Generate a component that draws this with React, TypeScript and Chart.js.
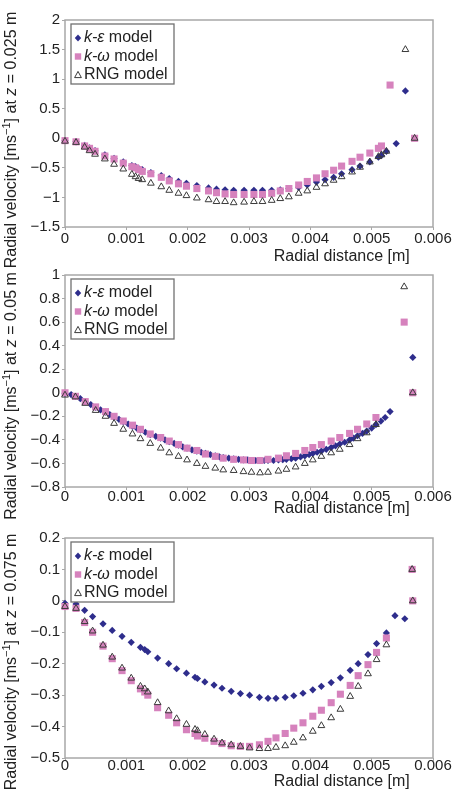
import React, { useEffect, useRef } from 'react';
import { Chart, registerables } from 'chart.js';

Chart.register(...registerables);

const FONT = '"Liberation Sans", Arial, Helvetica, sans-serif';
const C_KE = '#2e2d8c';
const C_KW = '#d682bd';
const C_RNG = '#3a3a3a';
const FRAME = '#a8a8a8';
const TEXT = '#222222';

const X_TICKS = [0, 0.001, 0.002, 0.003, 0.004, 0.005, 0.006];
const X_TITLE = 'Radial distance [m]';
const LEGEND_LABELS = ['k-ε', 'k-ω', 'RNG'];
const LEGEND_ITALIC = [true, true, false];
const LEGEND_SUFFIX = ' model';
const Z_VALUES = ['0.025', '0.05', '0.075'];

const Y1_TICKS = [-1.5, -1, -0.5, 0, 0.5, 1, 1.5, 2];
const Y2_TICKS = [-0.8, -0.6, -0.4, -0.2, 0, 0.2, 0.4, 0.6, 0.8, 1];
const Y3_TICKS = [-0.5, -0.4, -0.3, -0.2, -0.1, 0, 0.1, 0.2];

// ---------- Panel 1 : z = 0.025 m ----------
const X1 = [0, 0.00018, 0.00032, 0.0004, 0.00049, 0.00065, 0.0008, 0.00095, 0.00109, 0.00115,
  0.0012, 0.00126, 0.0014, 0.00157, 0.0017, 0.00185, 0.00198, 0.00215, 0.00234, 0.00247,
  0.00261, 0.00275, 0.00292, 0.00308, 0.00322, 0.00337, 0.00351, 0.00365, 0.00381, 0.00395,
  0.0041, 0.00424, 0.00438, 0.00451, 0.00468, 0.00481, 0.00497, 0.00511, 0.00516, 0.00524,
  0.0053, 0.0054, 0.00555, 0.0057];
const KE1 = [-0.04, -0.06, -0.12, -0.16, -0.21, -0.28, -0.34, -0.4, -0.46, -0.48,
  -0.51, -0.53, -0.58, -0.63, -0.68, -0.73, -0.76, -0.8, -0.84, -0.86,
  -0.87, -0.88, -0.88, -0.88, -0.88, -0.88, -0.87, -0.85, -0.83, -0.79,
  -0.74, -0.7, -0.66, -0.6, -0.53, -0.47, -0.4, -0.32, -0.29, -0.22,
  null, -0.09, 0.8, null];
const KW1 = [-0.04, -0.06, -0.13, -0.17, -0.22, -0.3, -0.35, -0.42, -0.48, -0.5,
  -0.53, -0.56, -0.6, -0.66, -0.72, -0.77, -0.81, -0.85, -0.89, -0.92,
  -0.94, -0.95, -0.95, -0.95, -0.95, -0.93, -0.89, -0.85, -0.79, -0.73,
  -0.67, -0.6, -0.54, -0.47, -0.39, -0.32, -0.25, -0.17, -0.13, null,
  0.9, null, null, 0];
const RNG1 = [-0.05, -0.07, -0.15, -0.21, -0.27, -0.35, -0.44, -0.52, -0.61, -0.65,
  -0.68, -0.7, -0.76, -0.82, -0.88, -0.93, -0.97, -1.01, -1.04, -1.07,
  -1.07, -1.09, -1.08, -1.07, -1.07, -1.05, -1.02, -0.99, -0.93, -0.89,
  -0.83, -0.77, -0.71, -0.65, -0.57, -0.49, -0.4, -0.31, -0.28, -0.22,
  null, null, 1.5, 0];

// ---------- Panel 2 : z = 0.05 m ----------
const X2 = [0, 0.00017, 0.00033, 0.0005, 0.00066, 0.0008, 0.00095, 0.0011, 0.00123, 0.00139,
  0.00156, 0.0017, 0.00185, 0.00199, 0.00215, 0.00229, 0.00245, 0.00258, 0.00275, 0.00291,
  0.00304, 0.00318, 0.00331, 0.00348, 0.00361, 0.00376, 0.00391, 0.00404, 0.00418, 0.00434,
  0.00448, 0.00464, 0.00477, 0.00492, 0.00507, 0.00553, 0.00567];
const KW2 = [0, -0.03, -0.075, -0.12, -0.16, -0.2, -0.24, -0.275, -0.31, -0.35,
  -0.38, -0.41, -0.44, -0.47, -0.49, -0.52, -0.54, -0.555, -0.565, -0.57,
  -0.575, -0.575, -0.565, -0.555, -0.535, -0.515, -0.49, -0.465, -0.44, -0.41,
  -0.38, -0.345, -0.31, -0.265, -0.21, 0.6, 0];
const RNG2 = [-0.02, -0.035, -0.09, -0.15, -0.2, -0.26, -0.31, -0.35, -0.39, -0.43,
  -0.47, -0.51, -0.54, -0.57, -0.6, -0.625, -0.64, -0.655, -0.66, -0.67,
  -0.675, -0.68, -0.675, -0.665, -0.65, -0.63, -0.6, -0.57, -0.54, -0.51,
  -0.48, -0.44, -0.39, -0.34, -0.27, 0.9, 0];
const X2E = [0, 0.0001, 0.00017, 0.00025, 0.00033, 0.00042, 0.0005, 0.00058, 0.00066, 0.00073,
  0.0008, 0.00088, 0.00095, 0.00103, 0.0011, 0.00117, 0.00123, 0.00131, 0.00139, 0.00148,
  0.00156, 0.00163, 0.0017, 0.00178, 0.00185, 0.00192, 0.00199, 0.00207, 0.00215, 0.00222,
  0.00229, 0.00237, 0.00245, 0.00252, 0.00258, 0.00267, 0.00275, 0.00283, 0.00291, 0.00298,
  0.00304, 0.00311, 0.00318, 0.00325, 0.00331, 0.0034, 0.00348, 0.00355, 0.00361, 0.00369,
  0.00376, 0.00384, 0.00391, 0.00398, 0.00404, 0.00411, 0.00418, 0.00426, 0.00434, 0.00441,
  0.00448, 0.00456, 0.00464, 0.0047, 0.00477, 0.00485, 0.00492, 0.005, 0.00507, 0.00515,
  0.00522, 0.0053, 0.00567];
const KE2 = [-0.005, -0.015, -0.03, -0.05, -0.075, -0.1, -0.125, -0.145, -0.165, -0.185,
  -0.205, -0.225, -0.245, -0.265, -0.285, -0.3, -0.315, -0.335, -0.355, -0.37,
  -0.385, -0.4, -0.415, -0.43, -0.445, -0.46, -0.47, -0.485, -0.495, -0.505,
  -0.515, -0.525, -0.535, -0.545, -0.55, -0.555, -0.56, -0.565, -0.57, -0.57,
  -0.575, -0.575, -0.575, -0.575, -0.575, -0.575, -0.57, -0.568, -0.565, -0.56,
  -0.555, -0.545, -0.535, -0.525, -0.515, -0.505, -0.495, -0.48, -0.465, -0.45,
  -0.435, -0.42, -0.4, -0.385, -0.365, -0.345, -0.325, -0.3, -0.27, -0.24,
  -0.21, -0.16, 0.3];

// ---------- Panel 3 : z = 0.075 m ----------
const X3 = [0, 0.00018, 0.00032, 0.00045, 0.00062, 0.00077, 0.00093, 0.00108, 0.00123, 0.0013,
  0.00135, 0.00151, 0.00169, 0.00182, 0.00198, 0.00212, 0.00216, 0.00228, 0.00243, 0.00256,
  0.00271, 0.00286, 0.00301, 0.00317, 0.00331, 0.00344, 0.00359, 0.00373, 0.00388, 0.00404,
  0.00418, 0.00434, 0.00449, 0.00465, 0.00478, 0.00494, 0.00508, 0.00524, 0.00538, 0.00554,
  0.00566, 0.00567];
const KE3 = [-0.008, -0.01, -0.03, -0.05, -0.073, -0.094, -0.113, -0.132, -0.148, -0.155,
  -0.162, -0.182, -0.2, -0.216, -0.23, -0.243, -0.247, -0.258, -0.268, -0.278,
  -0.288, -0.295, -0.3, -0.307, -0.31, -0.31, -0.307, -0.302, -0.294, -0.283,
  -0.272, -0.26, -0.245, -0.221, -0.2, -0.171, -0.136, -0.102, -0.047, -0.057,
  null, null];
const KW3 = [-0.018, -0.024, -0.069, -0.1, -0.144, -0.184, -0.222, -0.254, -0.28, -0.29,
  -0.3, -0.34, -0.364, -0.388, -0.41, -0.422, -0.43, -0.437, -0.447, -0.454,
  -0.461, -0.463, -0.463, -0.458, -0.447, -0.436, -0.422, -0.405, -0.388, -0.367,
  -0.348, -0.324, -0.297, -0.269, -0.238, -0.203, -0.164, -0.118, null, null,
  0.1, 0];
const RNG3 = [-0.018, -0.024, -0.066, -0.096, -0.141, -0.179, -0.214, -0.246, -0.272, -0.28,
  -0.29, -0.324, -0.35, -0.375, -0.393, -0.409, -0.413, -0.425, -0.44, -0.452,
  -0.458, -0.463, -0.468, -0.47, -0.47, -0.466, -0.461, -0.45, -0.436, -0.415,
  -0.397, -0.372, -0.345, -0.304, -0.272, -0.232, -0.187, -0.14, null, null,
  0.1, 0];

function pts(xs: number[], ys: (number | null)[]) {
  const out: { x: number; y: number }[] = [];
  const n = Math.min(xs.length, ys.length);
  for (let i = 0; i < n; i++) {
    const y = ys[i];
    if (y === null || y === undefined) continue;
    out.push({ x: xs[i], y });
  }
  return out;
}

function fmt(v: number) {
  const r = Math.round(v * 1e6) / 1e6;
  const s = String(Math.abs(r));
  return r < 0 ? '\u2212' + s : s;
}

function drawMarker(ctx: CanvasRenderingContext2D, i: number, x: number, y: number) {
  ctx.save();
  if (i === 0) {
    ctx.fillStyle = C_KE;
    ctx.beginPath();
    ctx.moveTo(x, y - 3.4);
    ctx.lineTo(x + 3.2, y);
    ctx.lineTo(x, y + 3.4);
    ctx.lineTo(x - 3.2, y);
    ctx.closePath();
    ctx.fill();
  } else if (i === 1) {
    ctx.fillStyle = C_KW;
    ctx.fillRect(x - 3.2, y - 3.2, 6.4, 6.4);
  } else {
    ctx.strokeStyle = C_RNG;
    ctx.lineWidth = 1;
    ctx.beginPath();
    ctx.moveTo(x, y - 3.6);
    ctx.lineTo(x + 3.4, y + 2.6);
    ctx.lineTo(x - 3.4, y + 2.6);
    ctx.closePath();
    ctx.stroke();
  }
  ctx.restore();
}

const decor = {
  id: 'decor',
  beforeDatasetsDraw(chart: any) {
    const { ctx, chartArea: a } = chart;
    ctx.save();
    ctx.strokeStyle = FRAME;
    ctx.lineWidth = 1.5;
    ctx.strokeRect(a.left, a.top, a.right - a.left, a.bottom - a.top);
    ctx.restore();
  },
  afterDraw(chart: any, _args: any, o: any) {
    const { ctx, chartArea: a } = chart;
    ctx.save();
    // x tick labels, placed with the chart's own x scale
    const xs = chart.scales.x;
    ctx.font = '15px ' + FONT;
    ctx.fillStyle = TEXT;
    ctx.textAlign = 'center';
    ctx.textBaseline = 'middle';
    X_TICKS.forEach((v) => {
      ctx.fillText(fmt(v), xs.getPixelForValue(v), o.xTickY);
    });
    // legend box
    const lx = a.left + 6;
    const ly = a.top + 4;
    const lw = 103;
    const lh = 60;
    ctx.fillStyle = '#ffffff';
    ctx.fillRect(lx, ly, lw, lh);
    ctx.strokeStyle = '#707070';
    ctx.lineWidth = 1.3;
    ctx.strokeRect(lx, ly, lw, lh);
    const rows = [14, 32.5, 51];
    ctx.textBaseline = 'middle';
    ctx.textAlign = 'left';
    LEGEND_LABELS.forEach((lab, i) => {
      const yy = ly + rows[i];
      drawMarker(ctx, i, lx + 7, yy);
      let tx = lx + 13;
      ctx.fillStyle = TEXT;
      ctx.font = (LEGEND_ITALIC[i] ? 'italic ' : '') + '16px ' + FONT;
      ctx.fillText(lab, tx, yy);
      tx += ctx.measureText(lab).width;
      ctx.font = '16px ' + FONT;
      ctx.fillText(LEGEND_SUFFIX, tx, yy);
    });
    // y-axis title (mixed styles)
    ctx.save();
    ctx.translate(o.yTitleX, o.yTitleY);
    ctx.rotate(-Math.PI / 2);
    const segs = [
      { t: 'Radial velocity [ms', f: '16px ' + FONT, dy: 0 },
      { t: '\u22121', f: '11px ' + FONT, dy: -5 },
      { t: '] at ', f: '16px ' + FONT, dy: 0 },
      { t: 'z', f: 'italic 16px ' + FONT, dy: 0 },
      { t: ' = ' + o.z + ' m', f: '16px ' + FONT, dy: 0 },
    ];
    let total = 0;
    segs.forEach((s) => { ctx.font = s.f; total += ctx.measureText(s.t).width; });
    let sx = -total / 2;
    ctx.fillStyle = TEXT;
    ctx.textAlign = 'left';
    ctx.textBaseline = 'middle';
    segs.forEach((s) => {
      ctx.font = s.f;
      ctx.fillText(s.t, sx, s.dy);
      sx += ctx.measureText(s.t).width;
    });
    ctx.restore();
    // x-axis title
    ctx.font = '16px ' + FONT;
    ctx.fillStyle = TEXT;
    ctx.textAlign = 'center';
    ctx.textBaseline = 'middle';
    ctx.fillText(X_TITLE, a.left + 0.752 * (a.right - a.left), o.xTitleY);
    ctx.restore();
  },
};

type PanelCfg = {
  top: number; height: number; padTop: number; xh: number;
  yTicks: number[]; z: string; yTitleY: number; xTitleY: number; xTickY: number;
  series: { x: number[]; y: (number | null)[] }[];
};

const PANELS: PanelCfg[] = [
  { top: 0, height: 270, padTop: 20, xh: 43, yTicks: Y1_TICKS, z: Z_VALUES[0], yTitleY: 140, xTitleY: 257, xTickY: 238.5,
    series: [{ x: X1, y: KE1 }, { x: X1, y: KW1 }, { x: X1, y: RNG1 }] },
  { top: 262, height: 270, padTop: 13, xh: 45, yTicks: Y2_TICKS, z: Z_VALUES[1], yTitleY: 134, xTitleY: 246.5, xTickY: 235,
    series: [{ x: X2E, y: KE2 }, { x: X2, y: KW2 }, { x: X2, y: RNG2 }] },
  { top: 525, height: 275, padTop: 13, xh: 42, yTicks: Y3_TICKS, z: Z_VALUES[2], yTitleY: 137, xTitleY: 257, xTickY: 240.5,
    series: [{ x: X3, y: KE3 }, { x: X3, y: KW3 }, { x: X3, y: RNG3 }] },
];

function Panel({ cfg }: { cfg: PanelCfg }) {
  const ref = useRef<HTMLCanvasElement | null>(null);
  useEffect(() => {
    if (!ref.current) return;
    const yMin = Math.min(...cfg.yTicks);
    const yMax = Math.max(...cfg.yTicks);
    const tickFont = { family: FONT, size: 15 };
    const chart = new Chart(ref.current, {
      type: 'scatter',
      data: {
        datasets: [
          { label: LEGEND_LABELS[0] + LEGEND_SUFFIX, data: pts(cfg.series[0].x, cfg.series[0].y), pointStyle: 'rectRot', pointRadius: 3.6,
            backgroundColor: C_KE, borderColor: C_KE, borderWidth: 0, order: 3, clip: false } as any,
          { label: LEGEND_LABELS[1] + LEGEND_SUFFIX, data: pts(cfg.series[1].x, cfg.series[1].y), pointStyle: 'rect', pointRadius: 5,
            backgroundColor: C_KW, borderColor: C_KW, borderWidth: 0, order: 2, clip: false } as any,
          { label: LEGEND_LABELS[2] + LEGEND_SUFFIX, data: pts(cfg.series[2].x, cfg.series[2].y), pointStyle: 'triangle', pointRadius: 3.9,
            backgroundColor: 'rgba(255,255,255,0)', borderColor: C_RNG, borderWidth: 1, order: 1, clip: false } as any,
        ],
      },
      options: {
        responsive: false,
        maintainAspectRatio: false,
        animation: false,
        devicePixelRatio: 1,
        events: [],
        layout: { padding: { top: cfg.padTop, right: 22, bottom: 0, left: 0 } },
        plugins: {
          legend: { display: false },
          tooltip: { enabled: false },
          title: { display: false },
          decor: { yTitleX: 12, yTitleY: cfg.yTitleY, xTitleY: cfg.xTitleY, xTickY: cfg.xTickY, z: cfg.z },
        } as any,
        scales: {
          x: {
            type: 'linear',
            min: 0,
            max: 0.006,
            afterBuildTicks: (s: any) => { s.ticks = X_TICKS.map((v) => ({ value: v })); },
            afterFit: (s: any) => { s.height = cfg.xh; s.paddingLeft = 0; s.paddingRight = 0; },
            ticks: { display: false },
            grid: { display: true, drawOnChartArea: false, drawTicks: true, tickLength: 3, color: FRAME },
            border: { display: false },
          },
          y: {
            type: 'linear',
            min: yMin,
            max: yMax,
            afterBuildTicks: (s: any) => { s.ticks = cfg.yTicks.map((v) => ({ value: v })); },
            afterFit: (s: any) => { s.width = 65; s.paddingTop = 0; s.paddingBottom = 0; },
            ticks: { callback: (v: any) => fmt(Number(v)), font: tickFont, color: TEXT, padding: 2, autoSkip: false },
            grid: { display: true, drawOnChartArea: false, drawTicks: true, tickLength: 3, color: FRAME },
            border: { display: false },
          },
        },
      } as any,
      plugins: [decor as any],
    });
    return () => chart.destroy();
  }, [cfg]);
  return (
    <canvas
      ref={ref}
      width={455}
      height={cfg.height}
      style={{ position: 'absolute', left: 0, top: cfg.top, width: 455, height: cfg.height, display: 'block' }}
    />
  );
}

export default function App() {
  useEffect(() => {
    document.body.style.margin = '0';
    document.body.style.background = '#ffffff';
  }, []);
  return (
    <div style={{ position: 'relative', width: 455, height: 800, overflow: 'hidden', background: '#ffffff' }}>
      {PANELS.map((p, i) => (
        <Panel key={i} cfg={p} />
      ))}
    </div>
  );
}
